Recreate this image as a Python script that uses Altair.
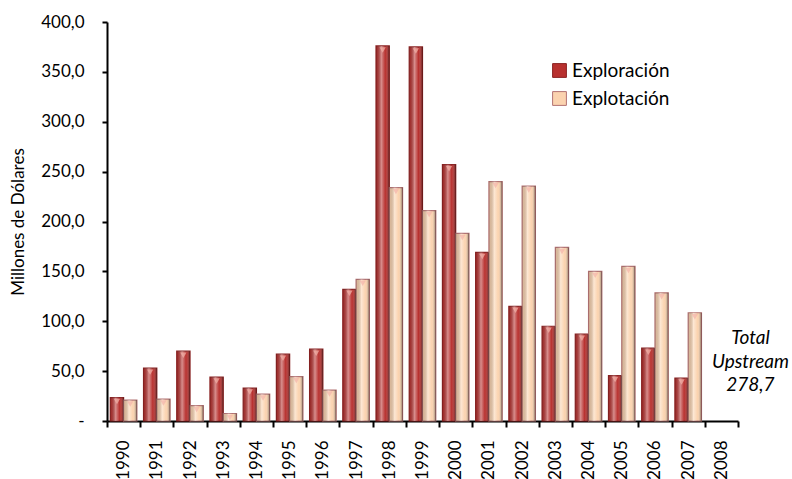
import altair as alt
import pandas as pd

# Inversión upstream por año (millones de dólares)
years = [str(y) for y in range(1990, 2009)]
exploracion = [23.5, 53.0, 70.0, 44.0, 33.0, 67.0, 72.0, 132.0, 376.0, 375.0,
               257.0, 169.0, 115.0, 95.0, 87.0, 45.5, 73.0, 43.0, 0.0]
explotacion = [21.0, 22.0, 15.5, 7.5, 27.0, 44.5, 31.0, 142.0, 234.0, 211.0,
               188.0, 240.0, 235.5, 174.0, 150.0, 155.0, 128.5, 108.5, 0.0]
series = ["Exploración", "Explotación"]
fill_colors = ["#B8312F", "#FBD3AF"]
stroke_colors = ["#8A2222", "#B27272"]
total_upstream = 278.7

rows = []
for i, yr in enumerate(years):
    rows.append({"anio": yr, "serie": series[0], "valor": exploracion[i]})
    rows.append({"anio": yr, "serie": series[1], "valor": explotacion[i]})
df = pd.DataFrame(rows)

FONT = "Lato"

x_enc = alt.X(
    "anio:N",
    sort=years,
    scale=alt.Scale(domain=years, paddingInner=0, paddingOuter=0),
    axis=alt.Axis(
        title=None,
        labelAngle=-90,
        labelFontSize=17,
        labelFont=FONT,
        labelColor="#000000",
        labelPadding=13,
        labelBaseline="middle",
        labelAlign="right",
        tickBand="extent",
        tickSize=6,
        tickWidth=2,
        tickColor="#000000",
        domainColor="#000000",
        domainWidth=2,
    ),
)
x_plain = alt.X("anio:N", sort=years, scale=alt.Scale(domain=years))
xoff_enc = alt.XOffset(
    "serie:N",
    sort=series,
    scale=alt.Scale(domain=series, paddingInner=0, paddingOuter=0.25),
)
y_enc = alt.Y(
    "valor:Q",
    scale=alt.Scale(domain=[0, 400], nice=False),
    axis=alt.Axis(
        title="Millones de Dólares",
        titleFont=FONT,
        titleFontSize=17,
        titleFontWeight="normal",
        titleColor="#000000",
        titlePadding=13,
        values=list(range(0, 401, 50)),
        labelExpr="datum.value == 0 ? '-' : replace(format(datum.value, '.1f'), '.', ',')",
        labelFontSize=17,
        labelFont=FONT,
        labelColor="#000000",
        labelPadding=18,
        tickSize=5,
        tickWidth=2,
        tickColor="#000000",
        domainColor="#000000",
        domainWidth=2,
        grid=False,
    ),
)

base = alt.Chart(df).transform_filter("datum.valor > 0")

bars = base.mark_bar(strokeWidth=1.2).encode(
    x=x_enc,
    xOffset=xoff_enc,
    y=y_enc,
    fill=alt.Fill(
        "serie:N",
        sort=series,
        scale=alt.Scale(domain=series, range=fill_colors),
        legend=alt.Legend(
            title=None,
            orient="none",
            legendX=443,
            legendY=39,
            symbolType="square",
            symbolSize=190,
            symbolStrokeWidth=1,
            symbolStrokeColor="#8A4A4A",
            labelFont=FONT,
            labelFontSize=19,
            labelColor="#000000",
            labelOffset=3,
            rowPadding=8,
            padding=0,
        ),
    ),
    stroke=alt.Stroke(
        "serie:N",
        sort=series,
        scale=alt.Scale(domain=series, range=stroke_colors),
        legend=None,
    ),
)

# cylinder-like shading drawn over each bar
shade = base.mark_bar(
    fill=alt.Gradient(
        gradient="linear",
        x1=0, x2=1, y1=0, y2=0,
        stops=[
            alt.GradientStop(offset=0, color="rgba(0,0,0,0.10)"),
            alt.GradientStop(offset=0.4, color="rgba(255,255,255,0.45)"),
            alt.GradientStop(offset=0.7, color="rgba(255,255,255,0.0)"),
            alt.GradientStop(offset=1, color="rgba(0,0,0,0.45)"),
        ],
    ),
).encode(x=x_plain, xOffset=xoff_enc, y="valor:Q")

# small light cap at the top of each bar
caps = base.mark_point(shape="triangle-down", filled=True, size=40, color="#F4B4AA").encode(
    x=x_plain,
    xOffset=xoff_enc,
    y="valor:Q",
    yOffset=alt.value(4),
)

note_df = pd.DataFrame(
    {
        "anio": [years[-1]],
        "label": ["Total\nUpstream\n" + f"{total_upstream:.1f}".replace(".", ",")],
    }
)
note = alt.Chart(note_df).mark_text(
    font=FONT,
    fontSize=19,
    fontStyle="italic",
    color="#000000",
    lineBreak="\n",
    lineHeight=23.5,
    align="center",
    baseline="middle",
    dx=29,
).encode(x=x_plain, y=alt.value(316), text="label:N")

chart = (
    alt.layer(bars, shade, caps, note)
    .properties(
        width=631,
        height=399,
        autosize=alt.AutoSizeParams(type="none"),
        padding={"left": 107, "top": 22, "right": 54, "bottom": 58},
        background="#FFFFFF",
    )
    .configure_view(stroke=None)
)

chart.save("out.html", embed_options={"renderer": "svg", "actions": False})
